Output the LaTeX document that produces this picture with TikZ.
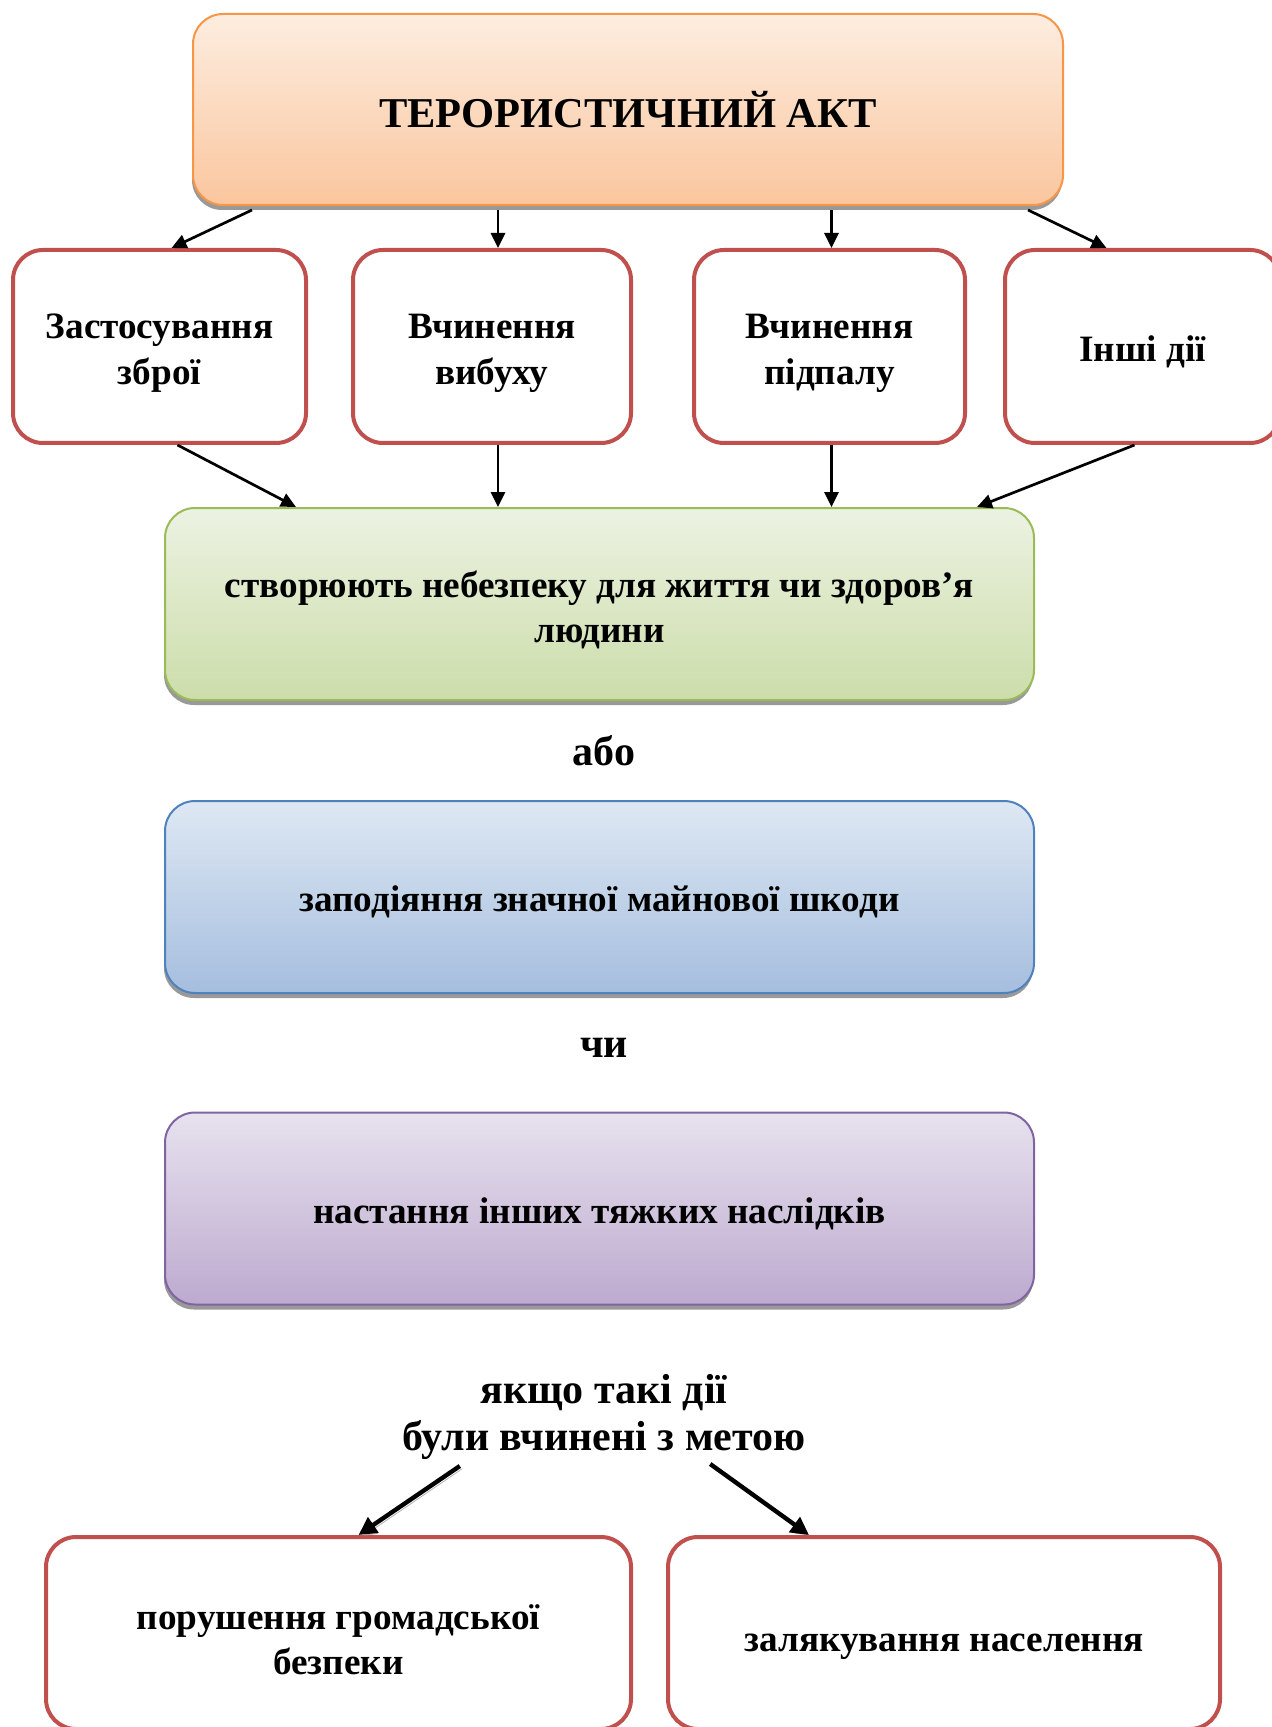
\documentclass[tikz,border=0pt]{standalone}
\usepackage{fontspec}
\setmainfont{Liberation Serif}
\usetikzlibrary{arrows.meta,calc,shadows}
\definecolor{actline}{RGB}{247,150,70}
\definecolor{acttop}{RGB}{253,237,224}
\definecolor{actbot}{RGB}{250,198,158}
\definecolor{wayline}{RGB}{192,80,77}
\definecolor{dangerline}{RGB}{155,187,89}
\definecolor{dangertop}{RGB}{236,242,226}
\definecolor{dangerbot}{RGB}{204,221,170}
\definecolor{damageline}{RGB}{79,129,189}
\definecolor{damagetop}{RGB}{222,232,243}
\definecolor{damagebot}{RGB}{165,190,222}
\definecolor{graveline}{RGB}{128,100,162}
\definecolor{gravetop}{RGB}{231,226,238}
\definecolor{gravebot}{RGB}{189,170,207}
% lowers box text a little, as in the picture
\newcommand\boxstrut[1][19pt]{\rule{0pt}{#1}}

\tikzset{
 box/.style={rectangle,rounded corners=15pt,align=center,inner sep=2pt,
  font=\bfseries\fontsize{18.6}{22.6}\selectfont},
 shade box/.style={box,line width=1pt,minimum width=434.5pt,minimum height=96pt,
  drop shadow={shadow xshift=-.5pt,shadow yshift=-2.5pt,fill=black!40,opacity=1}},
 waybox/.style={box,draw=wayline,line width=2pt,fill=white,minimum height=96.5pt},
 aimbox/.style={box,draw=wayline,line width=2pt,fill=white,minimum height=96pt},
 word/.style={font=\bfseries\fontsize{21}{23.5}\selectfont,align=center,inner sep=0pt},
 thin arrow/.style={line width=1.35pt,-{Triangle[length=7.5pt,width=7pt]}},
 thick arrow/.style={line width=2.2pt,-{Triangle[length=9pt,width=9pt]},
  preaction={draw=black!30,transform canvas={xshift=1.3pt,yshift=-1.3pt}}}
}

\begin{document}
\begin{tikzpicture}[x=1pt,y=-1pt]
\useasboundingbox (0,0) rectangle (636,863.5);
\node[shade box,draw=actline,top color=acttop,bottom color=actbot,minimum width=435pt,
 minimum height=95.5pt,font=\bfseries\fontsize{21.25}{25}\selectfont] (act) at (314,54.75){ТЕРОРИСТИЧНИЙ АКТ};

\node[waybox,minimum width=146.5pt] (weapon) at (79.75,173.25){\boxstrut Застосування\\зброї};
\node[waybox,minimum width=139pt] (blast) at (246,173.25){\boxstrut Вчинення\\вибуху};
\node[waybox,minimum width=135.5pt] (arson) at (414.75,173.25){\boxstrut Вчинення\\підпалу};
\node[waybox,minimum width=137.5pt] (other) at (571.25,173.25){\boxstrut[18pt]Інші дії};

\node[shade box,draw=dangerline,top color=dangertop,bottom color=dangerbot] (danger) at (299.75,302)
 {\boxstrut створюють небезпеку для життя чи здоров’я\\людини};
\node[word] (abo) at (302,375.5){або};
\node[shade box,draw=damageline,top color=damagetop,bottom color=damagebot] (damage) at (299.75,448.5)
 {\boxstrut[18pt]заподіяння значної майнової шкоди};
\node[word] (chy) at (302,524){чи};
\node[shade box,draw=graveline,top color=gravetop,bottom color=gravebot] (grave) at (299.75,604.25)
 {\boxstrut[18pt]настання інших тяжких наслідків};

\node[word] (aim) at (302,708.5){якщо такі дії\\були вчинені з метою};
\node[aimbox,minimum width=292.5pt] (order) at (169.25,816.5){\boxstrut порушення громадської\\безпеки};
\node[aimbox,minimum width=276pt] (fear) at (472,816.5){\boxstrut[22pt]залякування населення};

% act -> ways
\draw[thin arrow] ($(act.south west)+(30,2)$) -- ($(weapon.north)+(6,0)$);
\draw[thin arrow] (act.south -| blast.north) ++(3,2) -- ($(blast.north)+(3,0)$);
\draw[thin arrow] (act.south -| arson.north) ++(1,2) -- ($(arson.north)+(1,0)$);
\draw[thin arrow] ($(act.south east)+(-18,2)$) -- ($(other.north)+(-18,0)$);
% ways -> danger
\draw[thin arrow] ($(weapon.south)+(9,0)$) -- ($(danger.north west)+(66,0)$);
\draw[thin arrow] ($(blast.south)+(3,0)$) -- ($(blast.south |- danger.north)+(3,0)$);
\draw[thin arrow] ($(arson.south)+(1,0)$) -- ($(arson.south |- danger.north)+(1,0)$);
\draw[thin arrow] ($(other.south)+(-4,0)$) -- ($(danger.north east)+(-29,0)$);
% aim -> order, fear
\draw[thick arrow] ($(aim.south west)+(29,3)$) -- ($(order.north)+(10,0)$);
\draw[thick arrow] ($(aim.south east)+(-48,2)$) -- ($(fear.north)+(-67.5,0)$);
\end{tikzpicture}
\end{document}
